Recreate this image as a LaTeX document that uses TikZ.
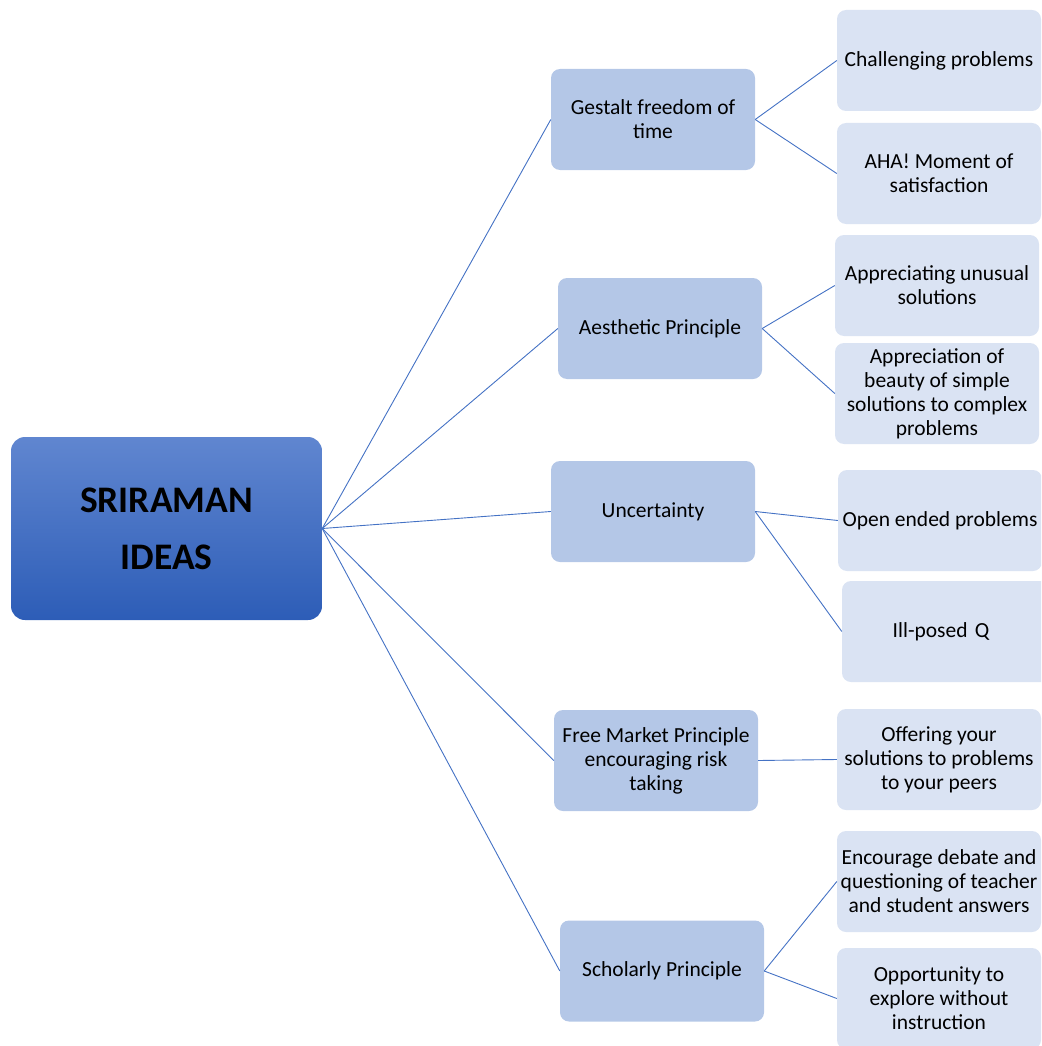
\documentclass[tikz,border=0pt]{standalone}
\usepackage{fontspec}
\setmainfont{Carlito}
\definecolor{midc}{HTML}{B4C7E7}
\definecolor{leafc}{HTML}{DAE3F3}
\definecolor{linec}{HTML}{4472C4}
\definecolor{roottop}{HTML}{6086D0}
\definecolor{rootbot}{HTML}{2D5DB7}
\begin{document}
\begin{tikzpicture}[x=1pt,y=-1pt,
  midbox/.style={fill=midc, rounded corners=9pt, minimum width=204pt, minimum height=101pt, align=center, font=\fontsize{21.5}{24}\selectfont, inner sep=0pt},
  leafbox/.style={fill=leafc, rounded corners=9pt, minimum width=204pt, minimum height=101pt, align=center, font=\fontsize{21.5}{24}\selectfont, inner sep=0pt},
  conn/.style={draw=linec, line width=0.9pt}]
\useasboundingbox (0,0) rectangle (1041,1046);
\clip (0,0) rectangle (1041,1046);
\node[rounded corners=14pt, top color=roottop, bottom color=rootbot, minimum width=311pt, minimum height=183pt, align=center, inner sep=0pt, font=\fontsize{37.5}{57}\selectfont\bfseries] (root) at (166.5,528.5) {SRIRAMAN\\IDEAS};
% mid
\node[midbox] (g) at (653,119.5) {Gestalt freedom of\\time};
\node[midbox] (a) at (660,328.5) {Aesthetic Principle};
\node[midbox] (u) at (653,511.5) {Uncertainty};
\node[midbox] (f) at (656,760.5) {Free Market Principle\\encouraging risk\\taking};
\node[midbox] (s) at (662,971) {Scholarly Principle};
% leaves
\node[leafbox] (g1) at (939,60.5) {Challenging problems};
\node[leafbox] (g2) at (939,173.5) {AHA! Moment of\\satisfaction};
\node[leafbox] (a1) at (937,285.5) {Appreciating unusual\\solutions};
\node[leafbox] (a2) at (937,393.5) {Appreciation of\\beauty of simple\\solutions to complex\\problems};
\node[leafbox] (u1) at (940,520.5) {Open ended problems};
\node[leafbox, minimum width=210pt, text width=200pt] (u2) at (947,631.5) {\hspace*{-12pt}Ill-posed Q};
\node[leafbox] (f1) at (939,759.5) {Offering your\\solutions to problems\\to your peers};
\node[leafbox] (s1) at (939,881.5) {Encourage debate and\\questioning of teacher\\and student answers};
\node[leafbox] (s2) at (939,998.5) {Opportunity to\\explore without\\instruction};
% connectors
\foreach \m in {g,a,u,f,s} \draw[conn] (root.east) -- (\m.west);
\draw[conn] (g.east) -- (g1.west);
\draw[conn] (g.east) -- (g2.west);
\draw[conn] (a.east) -- (a1.west);
\draw[conn] (a.east) -- (a2.west);
\draw[conn] (u.east) -- (u1.west);
\draw[conn] (u.east) -- (u2.west);
\draw[conn] (f.east) -- (f1.west);
\draw[conn] (s.east) -- (s1.west);
\draw[conn] (s.east) -- (s2.west);
\end{tikzpicture}
\end{document}
